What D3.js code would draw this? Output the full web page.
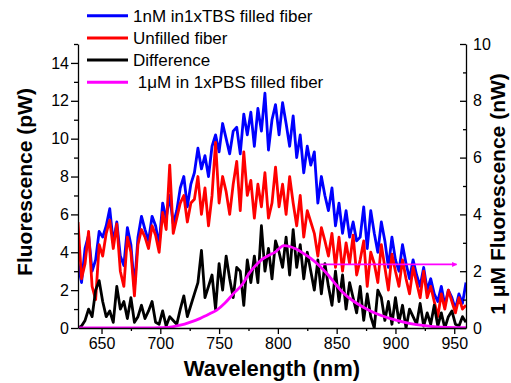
<!DOCTYPE html>
<html>
<head>
<meta charset="utf-8">
<script src="https://cdn.jsdelivr.net/npm/d3@7"></script>
<style>
  body { margin: 0; background: #fff; }
  svg { display: block; font-family: Arial, "Liberation Sans", sans-serif; }
</style>
</head>
<body>
<div id="chart"></div>
<script>
// fluorescence spectra, values

// wavelength grid for the noisy spectra (nm)
const wavelength = d3.range(630, 961, 3);

// 1nM in 1xTBS filled fiber (pW)
const filled = [
  3.4, 2.4, 4.2, 4.9, 3.0, 3.6, 5.1, 4.8, 5.4, 6.3,
  4.5, 5.6, 3.8, 3.3, 5.3, 4.4, 2.1, 4.8, 5.9, 5.2,
  4.6, 5.9, 5.4, 4.4, 6.6, 5.8, 7.0, 5.5, 6.2, 7.4,
  8.0, 6.4, 7.6, 8.2, 9.5, 8.4, 9.1, 8.0, 9.6, 10.2,
  9.3, 10.8, 10.0, 9.2, 10.4, 10.6, 9.2, 11.3, 10.2, 11.4,
  9.6, 11.6, 10.4, 12.4, 9.4, 11.0, 11.8, 10.2, 11.9, 10.8,
  9.6, 11.2, 9.0, 10.2, 8.2, 9.6, 8.6, 9.3, 6.6, 8.0,
  7.0, 6.2, 7.4, 5.4, 6.6, 5.0, 6.2, 4.8, 5.6, 4.6,
  4.8, 6.4, 4.2, 6.2, 5.0, 4.0, 5.6, 4.6, 3.2, 4.8,
  3.6, 3.0, 4.4, 3.4, 2.6, 3.6, 2.8, 2.2, 3.2, 2.0,
  2.6, 1.8, 1.4, 2.2, 1.2, 2.0, 1.6, 1.0, 1.8, 1.3,
  2.4
];

// unfilled fiber (pW)
const unfilled = [
  5.6, 2.6, 3.4, 5.1, 2.2, 1.5, 4.4, 3.8, 5.0, 5.7,
  4.2, 5.5, 3.0, 2.2, 4.8, 4.0, 1.7, 4.4, 5.2, 4.8,
  4.2, 5.4, 4.9, 4.0, 6.1, 5.2, 8.6, 5.0, 5.8, 6.6,
  7.0, 5.6, 6.6, 6.8, 8.0, 6.0, 7.4, 5.4, 7.0, 9.8,
  6.6, 8.0, 7.2, 6.0, 7.6, 8.8, 6.2, 9.3, 7.0, 7.8,
  5.8, 7.6, 6.4, 8.2, 5.8, 6.6, 8.5, 6.4, 7.6, 6.0,
  8.0, 6.6, 5.4, 7.0, 4.8, 6.2, 5.6, 5.0, 3.8, 5.3,
  4.6, 3.8, 5.0, 3.2, 4.8, 3.0, 4.5, 3.4, 4.9, 2.8,
  3.6, 4.6, 2.2, 4.0, 3.4, 2.4, 4.4, 3.2, 2.0, 3.9,
  3.0, 2.2, 3.6, 2.6, 1.8, 3.2, 2.4, 1.6, 3.0, 1.6,
  2.2, 1.4, 0.6, 1.8, 1.0, 2.0, 1.4, 0.8, 1.6, 1.0,
  1.2
];

// difference (pW)
const difference = [
  0.0, 0.1, 0.4, 1.0, 0.6, 2.0, 2.5, 1.4, 0.6, 0.9,
  0.3, 2.2, 1.0, 1.4, 0.5, 1.6, 0.3, 0.6, 1.2, 0.5,
  0.9, 1.4, 0.3, 0.2, 0.9, 0.1, 0.6, 0.4, 0.2, 1.0,
  1.7, 0.6, 1.2, 1.8, 2.4, 4.1, 1.6, 2.2, 2.8, 1.0,
  3.4, 2.0, 3.8, 2.6, 1.6, 3.2, 3.0, 1.2, 3.6, 2.4,
  3.8, 2.4, 5.4, 3.0, 4.2, 2.6, 4.6, 4.0, 3.2, 4.8,
  2.8, 5.2, 3.2, 4.4, 2.6, 4.0, 3.0, 2.0, 3.6, 1.8,
  3.4, 2.2, 1.2, 3.0, 1.4, 2.8, 1.0, 2.4, 1.6, 0.8,
  2.2, 0.4, 1.8, 0.6, 0.0, 2.0, 1.6, 0.4, 1.4, 0.2,
  1.6, 0.3, 1.2, 0.0, 1.0, 0.6, 0.2, 1.3, 0.1, 0.8,
  0.2, 1.2, 0.1, 0.8, 0.0, 0.6, 0.9, 0.2, 0.1, 0.6,
  0.3
];

// 1uM in 1xPBS filled fiber (nW, right axis)
const pbsWavelength = [630, 660, 690, 700, 710, 717, 725, 734, 742, 748, 755, 762, 770, 776, 780, 786, 792, 798, 805, 810, 816, 822, 828, 835, 842, 848, 854, 860, 867, 875, 884, 895, 907, 918, 930, 945, 960];
const pbs = [0, 0, 0, 0.01, 0.04, 0.1, 0.2, 0.34, 0.5, 0.63, 0.88, 1.2, 1.55, 1.95, 2.15, 2.4, 2.55, 2.68, 2.9, 2.87, 2.77, 2.62, 2.45, 2.2, 1.9, 1.6, 1.3, 1.08, 0.87, 0.68, 0.5, 0.34, 0.21, 0.12, 0.06, 0.02, 0.01];

// horizontal arrow pointing to the right axis
const arrowWavelength = [836, 952];
const arrowLevel = 2.24;

const legendLabels = ["1nM in1xTBS filled fiber", "Unfilled fiber", "Difference", " 1\u03BCM in 1xPBS filled fiber"];
const colors = ["#0000ff", "#ff0000", "#000000", "#ff00ff"];

const xTicks = [650, 700, 750, 800, 850, 900, 950];
const xMinor = [675, 725, 775, 825, 875, 925];
const yLeftTicks = [0, 2, 4, 6, 8, 10, 12, 14];
const yLeftMinor = [1, 3, 5, 7, 9, 11, 13, 15];
const yRightTicks = [0, 2, 4, 6, 8, 10];
const yRightMinor = [1, 3, 5, 7, 9];

const W = 511, H = 383;
const margin = { top: 44, right: 45, bottom: 55, left: 78 };

const svg = d3.select("#chart").append("svg")
  .attr("width", W)
  .attr("height", H);

svg.append("rect").attr("width", W).attr("height", H).attr("fill", "#fff");

const x = d3.scaleLinear().domain([630, 960]).range([margin.left, W - margin.right]);
const yL = d3.scaleLinear().domain([0, 15]).range([H - margin.bottom, margin.top]);
const yR = d3.scaleLinear().domain([0, 10]).range([H - margin.bottom, margin.top]);

svg.append("clipPath").attr("id", "plot-clip")
  .append("rect")
  .attr("x", margin.left)
  .attr("y", margin.top - 20)
  .attr("width", W - margin.right - margin.left)
  .attr("height", H - margin.bottom - margin.top + 20);

const plot = svg.append("g").attr("clip-path", "url(#plot-clip)");

const line = d3.line()
  .x((d, i) => x(wavelength[i]))
  .y(d => yL(d));

[filled, unfilled, difference].forEach((series, k) => {
  plot.append("path")
    .datum(series)
    .attr("fill", "none")
    .attr("stroke", colors[k])
    .attr("stroke-width", 2.8)
    .attr("stroke-linejoin", "round")
    .attr("d", line);
});

const pbsLine = d3.line()
  .x((d, i) => x(pbsWavelength[i]))
  .y(d => yR(d))
  .curve(d3.curveMonotoneX);

plot.append("path")
  .datum(pbs)
  .attr("fill", "none")
  .attr("stroke", colors[3])
  .attr("stroke-width", 2.8)
  .attr("d", pbsLine);

// arrow
svg.append("defs").append("marker")
  .attr("id", "arrowhead")
  .attr("viewBox", "0 0 10 10")
  .attr("refX", 9).attr("refY", 5)
  .attr("markerWidth", 6).attr("markerHeight", 5)
  .attr("markerUnits", "userSpaceOnUse")
  .attr("orient", "auto")
  .append("path")
  .attr("d", "M0,0 L10,5 L0,10 z")
  .attr("fill", colors[3]);

svg.append("line")
  .attr("x1", x(arrowWavelength[0]))
  .attr("x2", x(arrowWavelength[1]))
  .attr("y1", yR(arrowLevel))
  .attr("y2", yR(arrowLevel))
  .attr("stroke", colors[3])
  .attr("stroke-width", 1.6)
  .attr("marker-end", "url(#arrowhead)");

// axes
function styleAxis(g) {
  g.selectAll("path, line").attr("stroke", "#000").attr("stroke-width", 1.3);
  g.selectAll("text").attr("font-size", "16px").attr("fill", "#000")
    .attr("font-family", "Arial, 'Liberation Sans', sans-serif");
}

const bottom = H - margin.bottom;

svg.append("g")
  .attr("transform", `translate(0,${bottom})`)
  .call(d3.axisBottom(x).tickValues(xTicks).tickSize(6).tickSizeOuter(0).tickPadding(4))
  .call(styleAxis);

svg.append("g")
  .attr("transform", `translate(0,${bottom})`)
  .call(d3.axisBottom(x).tickValues(xMinor).tickSize(3).tickFormat(""))
  .call(g => g.select(".domain").remove())
  .call(styleAxis);

svg.append("g")
  .attr("transform", `translate(${margin.left},0)`)
  .call(d3.axisLeft(yL).tickValues(yLeftTicks).tickSize(7).tickSizeOuter(0).tickPadding(2))
  .call(styleAxis);

svg.append("g")
  .attr("transform", `translate(${margin.left},0)`)
  .call(d3.axisLeft(yL).tickValues(yLeftMinor).tickSize(4).tickFormat(""))
  .call(g => g.select(".domain").remove())
  .call(styleAxis);

svg.append("g")
  .attr("transform", `translate(${W - margin.right},0)`)
  .call(d3.axisRight(yR).tickValues(yRightTicks).tickSize(-6).tickSizeOuter(0).tickPadding(7))
  .call(styleAxis);

svg.append("g")
  .attr("transform", `translate(${W - margin.right},0)`)
  .call(d3.axisRight(yR).tickValues(yRightMinor).tickSize(-3).tickFormat(""))
  .call(g => g.select(".domain").remove())
  .call(styleAxis);

// axis titles
svg.append("text")
  .attr("x", (margin.left + W - margin.right) / 2)
  .attr("y", 376)
  .attr("text-anchor", "middle")
  .attr("font-size", "22px")
  .attr("font-weight", "bold")
  .text("Wavelength (nm)");

svg.append("text")
  .attr("transform", `translate(32,182) rotate(-90)`)
  .attr("text-anchor", "middle")
  .attr("font-size", "21px")
  .attr("font-weight", "bold")
  .text("Fluorescence (pW)");

svg.append("text")
  .attr("transform", `translate(505,194) rotate(-90)`)
  .attr("text-anchor", "middle")
  .attr("font-size", "21px")
  .attr("font-weight", "bold")
  .text("1 \u03BCM Fluorescence (nW)");

// legend
const legend = svg.append("g");
legendLabels.forEach((label, i) => {
  const ly = 15.7 + i * 22.2;
  legend.append("line")
    .attr("x1", 87).attr("x2", 128)
    .attr("y1", ly).attr("y2", ly)
    .attr("stroke", colors[i])
    .attr("stroke-width", 3);
  legend.append("text")
    .attr("x", 133)
    .attr("y", ly + 6)
    .attr("font-size", "17px")
    .attr("xml:space", "preserve")
    .style("white-space", "pre")
    .text(label);
});
</script>
</body>
</html>
